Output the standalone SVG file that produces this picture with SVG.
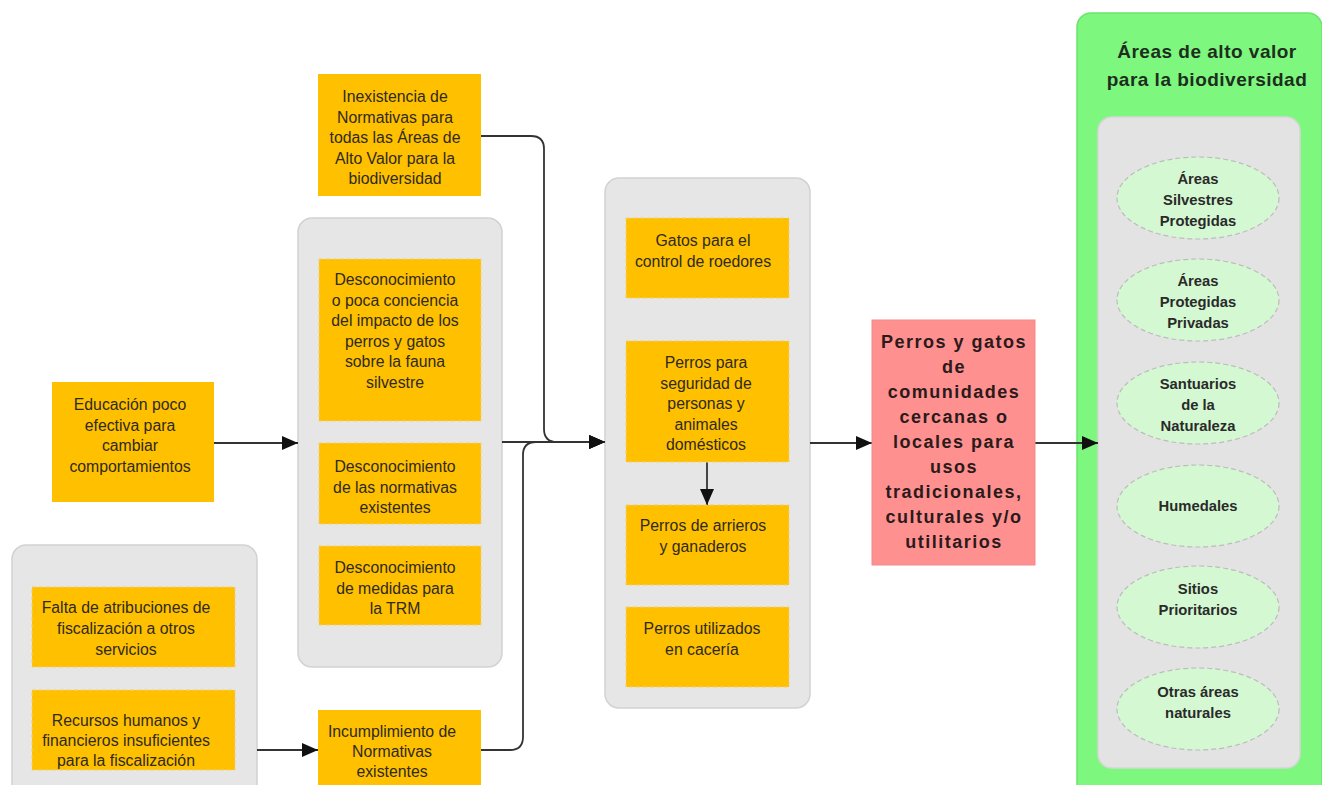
<svg xmlns="http://www.w3.org/2000/svg" width="1322" height="785" viewBox="0 0 1322 785">
<style>
.bg{fill:#ffffff}
.cont{fill:#e6e6e6;stroke:#d2d2d2;stroke-width:1.5}
.box{fill:#ffc000;stroke:#f2cf78;stroke-width:1;stroke-dasharray:4 3}
.t{font-family:"Liberation Sans",Arial,sans-serif;font-size:15.8px;fill:#2e2a1e;text-anchor:middle}
.red{fill:#ff9090;stroke:#f28a8a;stroke-width:1}
.rt{font-family:"Liberation Sans",Arial,sans-serif;font-size:18px;font-weight:bold;letter-spacing:1.5px;fill:#2a1a1a;text-anchor:middle}
.green{fill:#7ef77e;stroke:#6ee26e;stroke-width:1.5}
.gt{font-family:"Liberation Sans",Arial,sans-serif;font-size:19px;font-weight:bold;letter-spacing:0.5px;fill:#1e2e1e;text-anchor:middle}
.ell{fill:#d4f9d2;stroke:#bcbcbc;stroke-width:1.2;stroke-dasharray:5 3}
.et{font-family:"Liberation Sans",Arial,sans-serif;font-size:14.8px;font-weight:bold;fill:#2a2a2a;text-anchor:middle}
.c{fill:none;stroke:#333333;stroke-width:1.8}
</style>
<defs>
<marker id="arr" markerWidth="16" markerHeight="14" refX="16" refY="7" orient="auto" markerUnits="userSpaceOnUse">
<path d="M0,0 L16,7 L0,14 z" fill="#111"/>
</marker>
</defs>
<rect class="bg" x="0" y="0" width="1322" height="785"/>

<!-- containers -->
<g id="grupo-desconocimiento">
<rect class="cont" x="298" y="218" width="204" height="449" rx="14"/>
</g>
<g id="grupo-fiscalizacion">
<rect class="cont" x="12" y="545" width="245" height="255" rx="14"/>
</g>
<g id="grupo-usos">
<rect class="cont" x="605" y="178" width="205" height="530" rx="14"/>
</g>
<g id="grupo-areas">
<rect class="green" x="1077" y="13" width="245" height="790" rx="14"/>
<text class="gt" x="1207" y="58">Áreas de alto valor</text>
<text class="gt" x="1207" y="86">para la biodiversidad</text>
<rect class="cont" x="1098" y="117" width="202" height="651" rx="14" style="fill:#e3e3e3;stroke:#d6d6d6"/>
</g>

<!-- connectors -->
<g id="connectors">
<path class="c" d="M214,443 H298" marker-end="url(#arr)"/>
<path class="c" d="M481,136 H531 Q544,136 544,149 V429 Q544,442 557,442 H605" marker-end="url(#arr)"/>
<path class="c" d="M481,750 H510 Q523,750 523,737 V455 Q523,442 536,442 H605" marker-end="url(#arr)"/>
<path class="c" d="M502,442 H605" marker-end="url(#arr)"/>
<path class="c" d="M257,750 H318" marker-end="url(#arr)"/>
<path class="c" d="M707,462 V505" marker-end="url(#arr)"/>
<path class="c" d="M810,443 H872" marker-end="url(#arr)"/>
<path class="c" d="M1035,443 H1098" marker-end="url(#arr)"/>
</g>

<!-- nodes -->
<g id="inexistencia">
<rect class="box" x="318" y="74" width="163" height="122" style="stroke:none"/>
<text class="t"><tspan x="395" y="102">Inexistencia de</tspan><tspan x="395" y="122.5">Normativas para</tspan><tspan x="395" y="143">todas las Áreas de</tspan><tspan x="395" y="163.5">Alto Valor para la</tspan><tspan x="395" y="184">biodiversidad</tspan></text>
</g>
<g id="educacion">
<rect class="box" x="52" y="382" width="162" height="120" style="stroke:none"/>
<text class="t"><tspan x="130" y="410">Educación poco</tspan><tspan x="130" y="430.5">efectiva para</tspan><tspan x="130" y="451">cambiar</tspan><tspan x="130" y="471.5">comportamientos</tspan></text>
</g>
<g id="desconocimiento-impacto">
<rect class="box" x="319" y="259" width="162" height="162"/>
<text class="t"><tspan x="395" y="285">Desconocimiento</tspan><tspan x="395" y="305.5">o poca conciencia</tspan><tspan x="395" y="326">del impacto de los</tspan><tspan x="395" y="346.5">perros y gatos</tspan><tspan x="395" y="367">sobre la fauna</tspan><tspan x="395" y="387.5">silvestre</tspan></text>
</g>
<g id="desconocimiento-normativas">
<rect class="box" x="319" y="443" width="162" height="81"/>
<text class="t"><tspan x="395" y="472">Desconocimiento</tspan><tspan x="395" y="492.5">de las normativas</tspan><tspan x="395" y="513">existentes</tspan></text>
</g>
<g id="desconocimiento-medidas">
<rect class="box" x="319" y="546" width="162" height="79"/>
<text class="t"><tspan x="395" y="573">Desconocimiento</tspan><tspan x="395" y="593.5">de medidas para</tspan><tspan x="395" y="614">la TRM</tspan></text>
</g>
<g id="falta-atribuciones">
<rect class="box" x="32" y="587" width="203" height="80"/>
<text class="t"><tspan x="126" y="613">Falta de atribuciones de</tspan><tspan x="126" y="634">fiscalización a otros</tspan><tspan x="126" y="655">servicios</tspan></text>
</g>
<g id="recursos">
<rect class="box" x="32" y="690" width="203" height="80"/>
<text class="t"><tspan x="126" y="726">Recursos humanos y</tspan><tspan x="126" y="746">financieros insuficientes</tspan><tspan x="126" y="766">para la fiscalización</tspan></text>
</g>
<g id="incumplimiento">
<rect class="box" x="318" y="710" width="163" height="90" style="stroke:none"/>
<text class="t"><tspan x="392" y="737">Incumplimiento de</tspan><tspan x="392" y="757">Normativas</tspan><tspan x="392" y="777">existentes</tspan></text>
</g>
<g id="gatos-roedores">
<rect class="box" x="626" y="218" width="163" height="80"/>
<text class="t"><tspan x="703" y="246">Gatos para el</tspan><tspan x="703" y="267">control de roedores</tspan></text>
</g>
<g id="perros-seguridad">
<rect class="box" x="626" y="341" width="163" height="121"/>
<text class="t"><tspan x="706" y="368">Perros para</tspan><tspan x="706" y="388.5">seguridad de</tspan><tspan x="706" y="409">personas y</tspan><tspan x="706" y="429.5">animales</tspan><tspan x="706" y="450">domésticos</tspan></text>
</g>
<g id="perros-arrieros">
<rect class="box" x="626" y="505" width="163" height="80"/>
<text class="t"><tspan x="703" y="531">Perros de arrieros</tspan><tspan x="703" y="552">y ganaderos</tspan></text>
</g>
<g id="perros-caceria">
<rect class="box" x="626" y="607" width="163" height="80"/>
<text class="t"><tspan x="702" y="634">Perros utilizados</tspan><tspan x="702" y="655">en cacería</tspan></text>
</g>
<g id="perros-gatos-comunidades">
<rect class="red" x="872" y="320" width="163" height="245"/>
<text class="rt"><tspan x="954" y="348">Perros y gatos</tspan><tspan x="954" y="373">de</tspan><tspan x="954" y="398">comunidades</tspan><tspan x="954" y="423">cercanas o</tspan><tspan x="954" y="448">locales para</tspan><tspan x="954" y="473">usos</tspan><tspan x="954" y="498">tradicionales,</tspan><tspan x="954" y="523">culturales y/o</tspan><tspan x="954" y="548">utilitarios</tspan></text>
</g>
<g id="asp">
<ellipse class="ell" cx="1198" cy="198" rx="81" ry="41"/>
<text class="et"><tspan x="1198" y="184">Áreas</tspan><tspan x="1198" y="205">Silvestres</tspan><tspan x="1198" y="226">Protegidas</tspan></text>
</g>
<g id="app">
<ellipse class="ell" cx="1198" cy="300" rx="81" ry="41"/>
<text class="et"><tspan x="1198" y="286">Áreas</tspan><tspan x="1198" y="307">Protegidas</tspan><tspan x="1198" y="328">Privadas</tspan></text>
</g>
<g id="santuarios">
<ellipse class="ell" cx="1198" cy="403" rx="81" ry="41"/>
<text class="et"><tspan x="1198" y="389">Santuarios</tspan><tspan x="1198" y="410">de la</tspan><tspan x="1198" y="431">Naturaleza</tspan></text>
</g>
<g id="humedales">
<ellipse class="ell" cx="1198" cy="506" rx="81" ry="41"/>
<text class="et"><tspan x="1198" y="511">Humedales</tspan></text>
</g>
<g id="sitios">
<ellipse class="ell" cx="1198" cy="607" rx="81" ry="41"/>
<text class="et"><tspan x="1198" y="594">Sitios</tspan><tspan x="1198" y="615">Prioritarios</tspan></text>
</g>
<g id="otras">
<ellipse class="ell" cx="1198" cy="709" rx="81" ry="41"/>
<text class="et"><tspan x="1198" y="697">Otras áreas</tspan><tspan x="1198" y="718">naturales</tspan></text>
</g>
</svg>
